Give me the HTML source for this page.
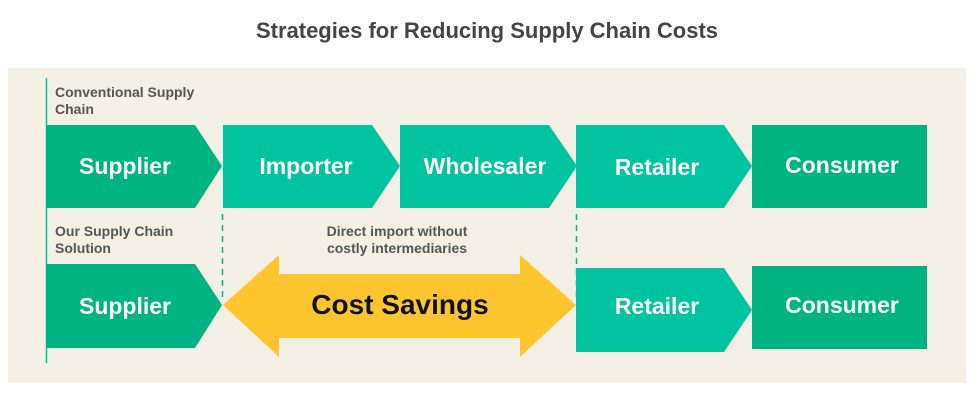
<!DOCTYPE html>
<html><head><meta charset="utf-8"><style>
body{margin:0;background:#fff;width:980px;height:414px;overflow:hidden;font-family:"Liberation Sans",sans-serif}
svg text{font-family:"Liberation Sans",sans-serif}
</style></head><body>
<svg width="980" height="414">
<text x="487" y="38" text-anchor="middle" font-size="22" font-weight="bold" fill="#444">Strategies for Reducing Supply Chain Costs</text>
<rect x="8" y="68" width="958" height="315" fill="#f4f0e6"/>
<line x1="46.5" y1="78" x2="46.5" y2="363" stroke="#00c49f" stroke-width="1.5"/>
<g font-size="14" font-weight="bold" fill="#555">
<text x="55" y="97">Conventional Supply</text>
<text x="55" y="114">Chain</text>
<text x="55" y="236">Our Supply Chain</text>
<text x="55" y="253">Solution</text>
<text x="397" y="236" text-anchor="middle">Direct import without</text>
<text x="397" y="253" text-anchor="middle">costly intermediaries</text>
</g>
<g stroke="#00b383" stroke-width="1.5" stroke-dasharray="6,5">
<line x1="222.5" y1="214" x2="222.5" y2="300"/>
<line x1="576.5" y1="214" x2="576.5" y2="300"/>
</g>
<g font-size="23" font-weight="bold" fill="#fff" text-anchor="middle">
<polygon points="46,125 195,125 222,166 195,208 46,208" fill="#00b383"/>
<text x="125" y="174">Supplier</text>
<polygon points="223,125 372,125 400,166 372,208 223,208" fill="#00c49f"/>
<text x="306" y="174">Importer</text>
<polygon points="400,125 549,125 577,166 549,208 400,208" fill="#00c49f"/>
<text x="485" y="174">Wholesaler</text>
<polygon points="576,125 724,125 752,166 724,208 576,208" fill="#00c49f"/>
<text x="657" y="175">Retailer</text>
<rect x="752" y="125" width="175" height="83" fill="#00b383"/>
<text x="842" y="173">Consumer</text>
<polygon points="46,264 195,264 222,305 195,348 46,348" fill="#00b383"/>
<text x="125" y="314">Supplier</text>
<polygon points="576,268 724,268 752,310 724,352 576,352" fill="#00c49f"/>
<text x="657" y="314">Retailer</text>
<rect x="752" y="266" width="175" height="83" fill="#00b383"/>
<text x="842" y="313">Consumer</text>
</g>
<polygon points="223,305 279,255 279,274 520,274 520,255 576,305 520,357 520,338 279,338 279,357" fill="#fec52e"/>
<text x="400" y="314" text-anchor="middle" font-size="28" font-weight="bold" fill="#111">Cost Savings</text>
</svg>
</body></html>
